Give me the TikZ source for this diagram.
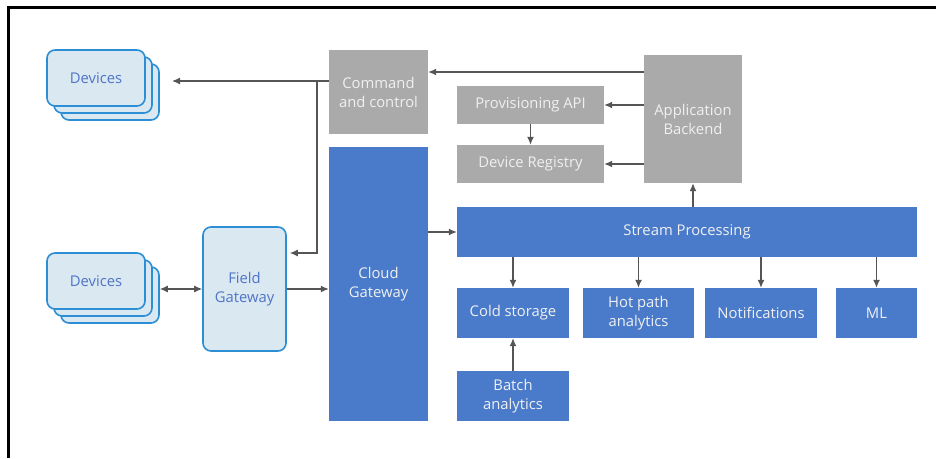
\documentclass[tikz,border=0pt]{standalone}
\usepackage{fontspec}
\setmainfont{Open Sans}
\usetikzlibrary{arrows.meta}

\definecolor{azblue}{RGB}{74,123,203}
\definecolor{azgrey}{RGB}{170,170,170}
\definecolor{devfill}{RGB}{218,232,241}
\definecolor{devline}{RGB}{44,142,212}
\definecolor{devtext}{RGB}{78,116,200}
\definecolor{arrgrey}{RGB}{85,85,85}

\tikzset{
  devcard/.style={draw=devline, line width=1.6pt, fill=devfill, rounded corners=8pt,
    minimum width=98pt, minimum height=56pt, inner sep=0pt, text=devtext},
  bluebox/.style={fill=azblue, text=white!94!black, inner sep=0pt, align=center},
  greybox/.style={fill=azgrey, text=white!94!black, inner sep=0pt, align=center},
  arr/.style={draw=arrgrey, line width=1.2pt, -{Latex[length=8pt,width=7pt]}},
  arrboth/.style={draw=arrgrey, line width=1.2pt, {Latex[length=8pt,width=7pt]}-{Latex[length=8pt,width=7pt]}}
}

\begin{document}
\begin{tikzpicture}[x=1pt,y=-1pt,font=\fontsize{14.8}{19}\selectfont]
  \useasboundingbox (0,0) rectangle (936,458);
  % frame
  \draw[line width=2.5pt] (8.3,458) -- (8.3,7.3) -- (936,7.3);

  % devices
  \node[devcard] (devAc) at (110,92) {};
  \node[devcard] (devAb) at (103,85) {};
  \node[devcard] (devA) at (96,78) {Devices};
  \node[devcard] (devBc) at (110,295) {};
  \node[devcard] (devBb) at (103,288) {};
  \node[devcard] (devB) at (96,281) {Devices};
  \node[devcard, minimum width=83pt, minimum height=124pt, align=center] (fg) at (244.5,289) {Field\\Gateway};

  % cloud side
  \node[greybox, minimum width=99pt, minimum height=84pt] (cmd) at (378.5,92) {Command\\and control};
  \node[bluebox, minimum width=99pt, minimum height=274pt] (cg) at (378.5,284) {Cloud\\Gateway};
  \node[greybox, minimum width=147pt, minimum height=38pt] (prov) at (530.5,105) {Provisioning API};
  \node[greybox, minimum width=147pt, minimum height=38pt] (reg) at (530.5,164) {Device Registry};
  \node[greybox, minimum width=98pt, minimum height=128pt] (appb) at (693,119) {Application\\Backend};
  \node[bluebox, minimum width=460pt, minimum height=50pt] (stream) at (687,232) {Stream Processing};
  \node[bluebox, minimum width=112pt, minimum height=50pt] (cold) at (513,313) {Cold storage};
  \node[bluebox, minimum width=111pt, minimum height=50pt] (hot) at (638.5,313) {Hot path\\analytics};
  \node[bluebox, minimum width=112pt, minimum height=50pt] (notif) at (761,313) {Notifications};
  \node[bluebox, minimum width=81pt, minimum height=50pt] (ml) at (876.5,313) {ML};
  \node[bluebox, minimum width=112pt, minimum height=50pt] (batch) at (513,396) {Batch\\analytics};

  % connectors
  \coordinate (devAtip) at (172,81);
  \coordinate (split) at (317,81);
  \draw[arr] (appb.west |- 0,72) -- (cmd.east |- 0,72);
  \draw[arr] (cmd.west |- devAtip) -- (devAtip);
  \draw[arr, shorten >=3pt] (split) -- (split |- 0,253) -- (fg.east |- 0,253);
  \draw[arrboth] (devBc.east |- fg) -- (fg.west);
  \draw[arr] (fg.east) -- (cg.west |- fg);
  \draw[arr] (cg.east |- stream) -- (stream.west);
  \draw[arr] (appb.west |- prov) -- (prov.east);
  \draw[arr] (appb.west |- reg) -- (reg.east);
  \draw[arr] (prov) -- (reg);
  \draw[arr] (stream.north -| appb) -- (appb.south);
  \foreach \n in {cold,hot,notif,ml}
    \draw[arr] (stream.south -| \n) -- (\n.north);
  \draw[arr] (batch) -- (cold);
\end{tikzpicture}
\end{document}
